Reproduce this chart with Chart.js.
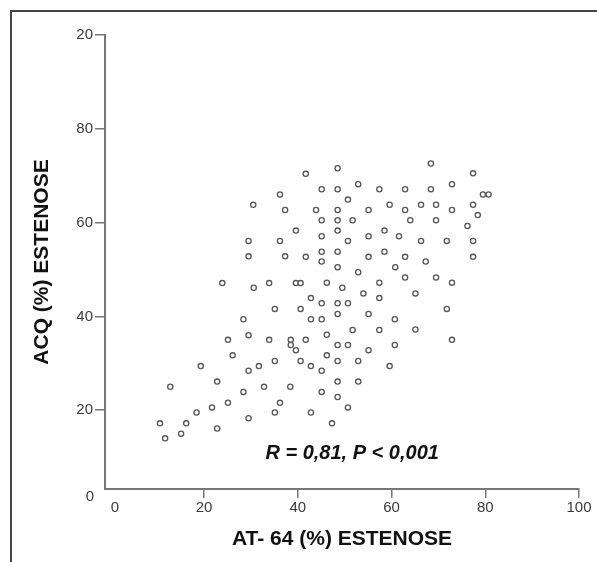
<!DOCTYPE html>
<html>
<head>
<meta charset="utf-8">
<script src="https://cdn.jsdelivr.net/npm/chart.js@4.4.1/dist/chart.umd.min.js"></script>
<style>
  html, body { margin: 0; padding: 0; background: #fff; }
  #wrap { position: relative; width: 597px; height: 562px; overflow: hidden; }
  #frame { position: absolute; left: 10px; top: 10px; width: 700px; height: 700px;
           border-top: 2px solid #444; border-left: 2px solid #444; }
  canvas { position: absolute; left: 0; top: 0; }
</style>
</head>
<body>
<div id="wrap">
  <div id="frame"></div>
  <canvas id="scatterChart" width="597" height="562"></canvas>
</div>
<script>
// ---------- data ----------
const atValues = [
  10.6, 11.7, 15.1, 16.2, 12.8, 18.4, 19.3, 21.7, 22.8, 22.8,
  23.9, 25.1, 25.1, 26.1, 28.4, 28.4, 29.5, 29.5, 29.5, 29.5,
  29.5, 30.5, 30.6, 31.7, 32.8, 33.9, 33.9, 35.1, 35.1, 35.1,
  36.2, 36.2, 36.2, 37.3, 37.3, 38.5, 38.5, 39.6, 38.4, 39.6,
  39.6, 40.6, 40.6, 40.6,
  41.7, 48.5, 45.1, 48.5, 52.9, 57.4, 50.7, 59.6, 43.9, 48.5,
  55.1, 45.1, 48.5, 51.7, 48.5, 45.1, 50.7, 55.1, 58.5, 61.6,
  41.7, 45.1, 48.5, 45.1, 48.5, 55.1, 58.5, 52.9, 60.8, 46.2,
  49.5, 54.0, 57.4, 42.8, 57.4, 45.1, 48.5, 50.7, 42.8, 45.1,
  48.5, 55.1, 60.7, 46.2, 51.7, 57.4, 41.7, 48.5, 50.7, 60.7,
  55.1, 46.2, 42.8, 48.5, 52.9, 45.1, 59.6, 48.5, 52.9, 45.1,
  48.5, 50.7, 42.8, 47.3,
  68.4, 77.4, 62.9, 68.4, 72.9, 79.5, 80.7, 62.9, 66.3, 69.5,
  72.9, 77.4, 78.4, 64.0, 69.5, 76.2, 66.3, 71.8, 77.4, 62.9,
  67.3, 77.4, 62.9, 69.5, 72.9, 65.1, 71.8, 65.1, 72.9
];
const acqValues = [
  17.2, 14.0, 15.0, 17.2, 25.0, 19.5, 29.4, 20.6, 26.1, 16.1,
  47.1, 35.0, 21.6, 31.7, 39.4, 23.9, 56.1, 52.8, 36.0, 28.4,
  18.3, 63.8, 46.1, 29.4, 25.0, 47.1, 35.0, 41.6, 30.5, 19.5,
  66.0, 56.1, 21.6, 62.7, 52.8, 35.0, 33.9, 32.8, 25.0, 58.3,
  47.1, 47.1, 41.6, 30.5,
  70.4, 71.6, 67.1, 67.1, 68.2, 67.1, 64.9, 63.8, 62.7, 62.7,
  62.7, 60.5, 60.5, 60.5, 58.3, 57.1, 56.1, 57.1, 58.3, 57.1,
  52.7, 53.8, 53.8, 51.7, 50.5, 52.7, 53.8, 49.4, 50.5, 47.2,
  46.1, 44.9, 47.2, 43.9, 43.9, 42.8, 42.8, 42.8, 39.4, 39.4,
  40.5, 40.5, 39.4, 36.1, 37.1, 37.1, 35.0, 33.9, 33.9, 33.9,
  32.8, 31.7, 29.4, 30.5, 30.5, 28.4, 29.4, 26.1, 26.1, 23.9,
  22.8, 20.6, 19.5, 17.2,
  72.6, 70.5, 67.1, 67.1, 68.2, 66.0, 66.0, 62.7, 63.8, 63.8,
  62.7, 63.8, 61.6, 60.5, 60.5, 59.3, 56.1, 56.1, 56.1, 52.7,
  51.7, 52.7, 48.3, 48.3, 47.2, 44.9, 41.6, 37.2, 35.0
];

const xTickValues = [20, 40, 60, 80, 100];
const xTickLabels = ['20', '40', '60', '80', '100'];
const yTickValues = [20, 40, 60, 80, 100];
const yTickLabels = ['20', '40', '60', '80', '20'];

const statLabel = 'R = 0,81, P < 0,001';
const statPos = [51.6, 10.7];

// ---------- styles ----------
const baseFont = '"Liberation Sans", Arial, sans-serif';
const tickColor = '#3a3a3a';
const axisColor = '#777';

const points = atValues.map((v, i) => ({ x: v, y: acqValues[i] }));

// '0' at the origin and the R / P note
const extraText = {
  id: 'extraText',
  afterDraw(chart) {
    const { ctx, scales: { x, y } } = chart;
    ctx.save();
    ctx.fillStyle = tickColor;
    ctx.font = '15px ' + baseFont;
    ctx.textBaseline = 'middle';
    ctx.textAlign = 'right';
    ctx.fillText('0', y.right - 11, y.bottom + 8);
    ctx.textAlign = 'center';
    ctx.fillText('0', x.left + 10, x.top + 19);

    ctx.fillStyle = '#111';
    ctx.font = 'italic bold 20px ' + baseFont;
    ctx.fillText(statLabel, x.getPixelForValue(statPos[0]), y.getPixelForValue(statPos[1]));
    ctx.restore();
  }
};

const ctx = document.getElementById('scatterChart').getContext('2d');
new Chart(ctx, {
  type: 'scatter',
  data: {
    datasets: [{
      label: 'ACQ vs AT-64',
      data: points,
      pointRadius: 2.6,
      pointBorderWidth: 1.3,
      borderColor: '#555',
      backgroundColor: '#fff'
    }]
  },
  options: {
    responsive: false,
    animation: false,
    layout: { padding: { top: 35, right: 18, bottom: 0, left: 0 } },
    plugins: { legend: { display: false }, tooltip: { enabled: false } },
    scales: {
      x: {
        type: 'linear',
        min: -1.13,
        max: 100,
        afterFit(s) { s.height = 73; },
        afterBuildTicks(s) { s.ticks = xTickValues.map(v => ({ value: v })); },
        grid: { drawOnChartArea: false, drawTicks: true, tickLength: 9, color: axisColor, lineWidth: 1.5 },
        border: { display: true, color: axisColor, width: 2 },
        ticks: {
          padding: 1,
          color: tickColor,
          font: { family: baseFont, size: 15 },
          maxRotation: 0,
          callback: (v, i) => xTickLabels[i]
        },
        title: {
          display: true,
          text: 'AT- 64 (%) ESTENOSE',
          color: '#111',
          font: { family: baseFont, size: 21, weight: 'bold' },
          padding: { top: 0, bottom: 10 }
        }
      },
      y: {
        type: 'linear',
        min: 3.2,
        max: 100,
        afterFit(s) { s.width = 105; },
        afterBuildTicks(s) { s.ticks = yTickValues.map(v => ({ value: v })); },
        grid: { drawOnChartArea: false, drawTicks: true, tickLength: 10, color: axisColor, lineWidth: 1.5 },
        border: { display: true, color: axisColor, width: 2 },
        ticks: {
          padding: 2,
          color: tickColor,
          font: { family: baseFont, size: 15 },
          callback: (v, i) => yTickLabels[i]
        },
        title: {
          display: true,
          text: 'ACQ (%) ESTENOSE',
          color: '#111',
          font: { family: baseFont, size: 21, weight: 'bold' },
          padding: { top: 30, bottom: 0 }
        }
      }
    }
  },
  plugins: [extraText]
});
</script>
</body>
</html>
